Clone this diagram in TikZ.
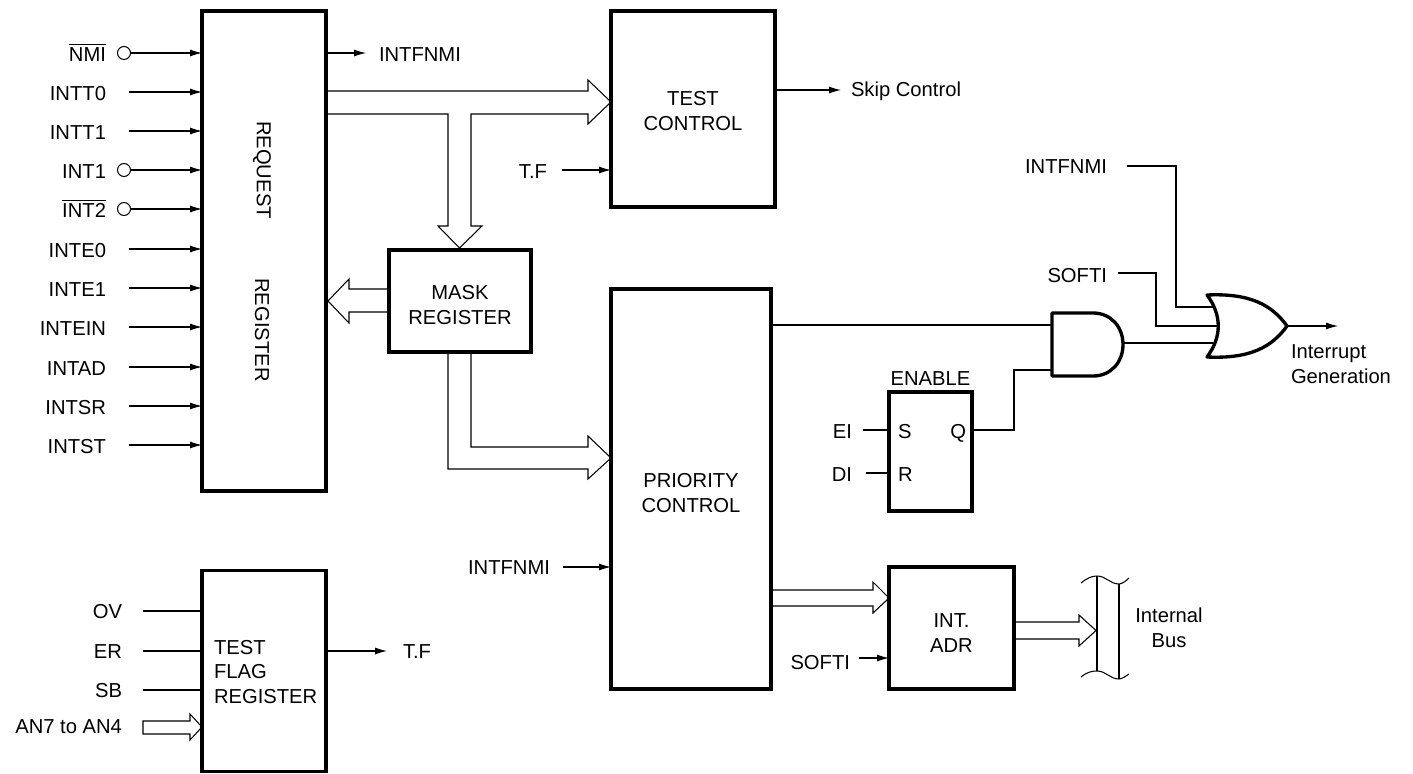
\documentclass[tikz,border=0pt]{standalone}
\usepackage{fontspec}
\setmainfont{Liberation Sans}
\usetikzlibrary{arrows.meta}
\def\u{0.02cm}
\tikzset{
	block/.style={draw, line width=1.9pt, inner sep=0pt, outer sep=0pt},
	lbl/.style={inner sep=0pt, outer sep=0pt, align=center},
	sig/.style={line width=0.6pt, -{Latex[length=6.8pt,width=4pt]}},
	wire/.style={line width=0.6pt},
	bus/.style={line width=0.6pt, line join=miter},
	gate/.style={line width=1.9pt, line join=round},
	inv/.style={draw, circle, line width=0.6pt, minimum size=13*\u, inner sep=0pt, outer sep=0pt}
}
\begin{document}
\begin{tikzpicture}[x=\u, y=-\u, font=\fontsize{11.5}{14.2}\selectfont]
	\useasboundingbox (0,0) rectangle (1413,774);

	% Blocchi
	\node[block, minimum width=124*\u, minimum height=480*\u] (request) at (264,251) {};
	\node[lbl, rotate=-90] (requesttxt) at (262,170) {REQUEST};
	\node[lbl, rotate=-90] (registertxt) at (262,330) {REGISTER};
	\node[block, minimum width=164*\u, minimum height=196*\u] (test) at (693,109) {};
	\node[lbl] (testtxt) at (693,111.5) {TEST\\CONTROL};
	\node[block, minimum width=142*\u, minimum height=102*\u] (mask) at (460,301) {};
	\node[lbl] (masktxt) at (460,305.5) {MASK\\REGISTER};
	\node[block, minimum width=160*\u, minimum height=400*\u] (priority) at (691,489) {};
	\node[lbl] (prioritytxt) at (691,493.5) {PRIORITY\\CONTROL};
	\node[block, minimum width=124*\u, minimum height=201*\u] (flag) at (264,671) {};
	\node[lbl, anchor=west, align=left] (flagtxt) at (214,672) {TEST\\FLAG\\REGISTER};
	\node[block, minimum width=125*\u, minimum height=122*\u] (adr) at (951.5,628) {};
	\node[lbl] (adrtxt) at (951.5,633) {INT.\\ADR};
	\node[block, minimum width=83*\u, minimum height=119*\u] (enable) at (930.5,451.5) {};

	% Ingressi del registro con cerchietto
	\foreach \sname/\ypos in {$\overline{\mbox{NMI}}$/53, INT1/170, $\overline{\mbox{INT2}}$/209} {
		\node[inv] (c\ypos) at (124,\ypos) {};
		\node[lbl, anchor=base east] (in\ypos) at (106,\ypos+8) {\sname};
		\draw[sig] (c\ypos.east) -- (c\ypos.east -| request.west);
	}
	% Ingressi del registro senza cerchietto
	\foreach \sname/\ypos in {INTT0/92, INTT1/131, INTE0/249, INTE1/288, INTEIN/327, INTAD/367, INTSR/406, INTST/445} {
		\coordinate (s\ypos) at (129,\ypos);
		\node[lbl, anchor=base east] (in\ypos) at (106,\ypos+8) {\sname};
		\draw[sig] (s\ypos) -- (s\ypos -| request.west);
	}

	% Uscite in alto
	\coordinate (fnmiend) at (366,53);
	\node[lbl, anchor=base west] (fnmiout) at (379,61) {INTFNMI};
	\draw[sig] (fnmiend -| request.east) -- (fnmiend);
	\coordinate (skipend) at (841,90);
	\node[lbl, anchor=base west] (skip) at (851,96) {Skip Control};
	\draw[sig] (skipend -| test.east) -- (skipend);
	\node[lbl, anchor=base east] (tftest) at (547,178) {T.F};
	\coordinate (tfstart) at (562,170);
	\draw[sig] (tfstart) -- (tfstart -| test.west);

	% Bus dal registro verso test control e mask
	\draw[bus] (request.east |- 0,91) -- (588,91) -- (588,80) -- (test.west |- 0,102) -- (588,124) -- (588,114)
		-- (471,114) -- (471,226) -- (482,226) -- (459.5,248) -- (438,226) -- (448,226) -- (448,114) -- (request.east |- 0,114);
	% Bus da mask verso il registro
	\draw[bus] (mask.west |- 0,289) -- (349,289) -- (349,279) -- (328,301) -- (349,323) -- (349,312) -- (mask.west |- 0,312);
	% Bus da mask verso priority
	\draw[bus] (471,352) -- (471,447) -- (588,447) -- (588,436) -- (priority.west |- 0,458) -- (588,479) -- (588,469) -- (448,469) -- (448,352);
	% Bus da priority verso int. adr
	\draw[bus] (priority.east |- 0,590) -- (873,590) -- (873,582) -- (adr.west |- 0,598) -- (873,613) -- (873,606) -- (priority.east |- 0,606);
	% Bus verso internal bus
	\draw[bus] (adr.east |- 0,622) -- (1079,622) -- (1079,615) -- (1096,630.5) -- (1079,646) -- (1079,639) -- (adr.east |- 0,639);

	% Internal bus
	\draw[bus] (1097,576) -- (1097,671);
	\draw[bus] (1119,584) -- (1119,679);
	\draw[bus] (1081,583) .. controls (1087,578) and (1092,576) .. (1097,576) .. controls (1106,576) and (1110,584) .. (1119,584) .. controls (1122,584) and (1126,581) .. (1129,578);
	\draw[bus] (1081,677) .. controls (1087,672) and (1092,671) .. (1097,671) .. controls (1106,671) and (1110,679) .. (1119,679) .. controls (1122,679) and (1126,676) .. (1129,674);
	\node[lbl] (ibus) at (1169,628) {Internal\\Bus};

	% Priority, ingresso e softi
	\node[lbl, anchor=base east] (fnmiprio) at (550,574) {INTFNMI};
	\coordinate (priostart) at (563,567);
	\draw[sig] (priostart) -- (priostart -| priority.west);
	\node[lbl, anchor=base east] (softiadr) at (850,669) {SOFTI};
	\coordinate (softistart) at (859,658);
	\draw[sig] (softistart) -- (softistart -| adr.west);

	% Test flag register
	\foreach \sname/\ypos in {OV/611, ER/651, SB/690} {
		\coordinate (f\ypos) at (143,\ypos);
		\node[lbl, anchor=base east] (lf\ypos) at (122,\ypos+7) {\sname};
		\draw[wire] (f\ypos) -- (f\ypos -| flag.west);
	}
	\node[lbl, anchor=base east] (an) at (122,733) {AN7 to AN4};
	\draw[bus] (flag.west |- 0,727) -- (190,740) -- (190,734) -- (143,734) -- (143,721) -- (190,721) -- (190,714) -- cycle;
	\coordinate (tfend) at (387,651);
	\node[lbl, anchor=base west] (tfout) at (403,658) {T.F};
	\draw[sig] (tfend -| flag.east) -- (tfend);

	% Enable
	\node[lbl] (enabletxt) at (930.5,379) {ENABLE};
	\node[lbl, anchor=base west] (sin) at (898,438) {S};
	\node[lbl, anchor=base west] (rin) at (898,481) {R};
	\node[lbl, anchor=base east] (qout) at (966,438) {Q};
	\node[lbl, anchor=base east] (ei) at (852,438) {EI};
	\node[lbl, anchor=base east] (di) at (852,481) {DI};
	\coordinate (eistart) at (863,430);
	\coordinate (distart) at (866,473);
	\draw[wire] (eistart) -- (eistart -| enable.west);
	\draw[wire] (distart) -- (distart -| enable.west);

	% Porte logiche
	\draw[gate] (1052,313) -- (1093,313) .. controls (1111,313) and (1123,327) .. (1123,344.5) .. controls (1123,362) and (1111,376) .. (1093,376) -- (1052,376) -- cycle;
	\draw[gate] (1207,295) .. controls (1250,293) and (1272,305) .. (1287,326) .. controls (1272,347) and (1250,359) .. (1207,357) .. controls (1222,337) and (1222,315) .. cycle;
	\coordinate (andtop) at (1052,325);
	\coordinate (andbot) at (1052,370);
	\coordinate (andout) at (1123,343);
	\coordinate (orup) at (1213,307);
	\coordinate (ormid) at (1218,326);
	\coordinate (orlow) at (1213,343);
	\coordinate (ortip) at (1287,326);

	\draw[wire] (andtop -| priority.east) -- (andtop);
	\draw[wire] (enable.east |- 0,430) -- (1014,430) -- (1014,370) -- (andbot);
	\draw[wire] (andout) -- (orlow);
	\coordinate (fnmistart) at (1127,166);
	\node[lbl, anchor=base east] (fnmior) at (1107,173) {INTFNMI};
	\draw[wire] (fnmistart) -- (1176,166) -- (1176,307) -- (orup);
	\coordinate (softistartb) at (1118,273);
	\node[lbl, anchor=base east] (softior) at (1107,282) {SOFTI};
	\draw[wire] (softistartb) -- (1156,273) -- (1156,326) -- (ormid);
	\coordinate (orend) at (1338,326);
	\draw[sig] (ortip) -- (orend);
	\node[lbl, anchor=north west, align=left] (intgen) at (1291,344.5) {Interrupt\\Generation};
\end{tikzpicture}
\end{document}
